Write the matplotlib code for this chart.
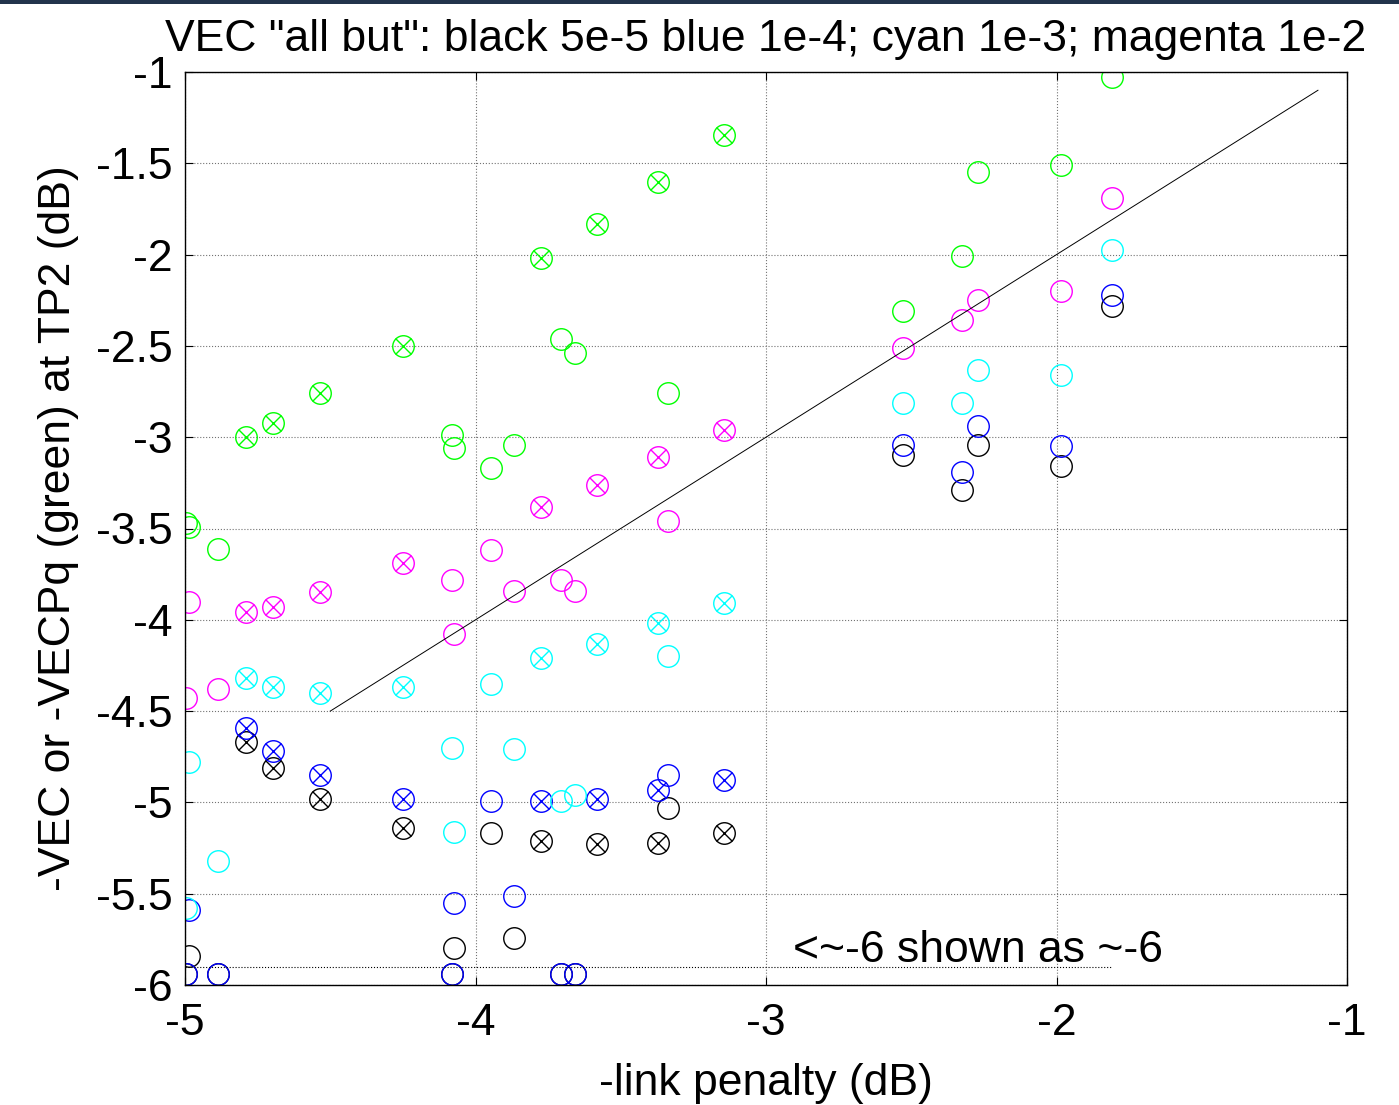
import matplotlib
matplotlib.use("Agg")
import matplotlib.pyplot as plt
from matplotlib.patches import Rectangle

plt.rcParams['font.family'] = ['Liberation Sans', 'DejaVu Sans']

# crossed-circle cases
cx = [-4.79, -4.697, -4.535, -4.25, -3.775, -3.582, -3.372, -3.145]
green_c = [-3.00, -2.92, -2.76, -2.50, -2.02, -1.83, -1.60, -1.345]
magenta_c = [-3.96, -3.93, -3.85, -3.69, -3.38, -3.26, -3.11, -2.96]
cyan_c = [-4.32, -4.37, -4.40, -4.37, -4.21, -4.13, -4.02, -3.91]
blue_c = [-4.59, -4.72, -4.85, -4.98, -4.99, -4.98, -4.93, -4.88]
black_c = [-4.67, -4.81, -4.98, -5.14, -5.21, -5.23, -5.22, -5.17]

# open-circle cases
ox = [-4.995, -4.985, -4.886, -4.08, -4.075, -3.947, -3.867, -3.706, -3.657,
      -3.337, -2.528, -2.325, -2.27, -1.985, -1.81]
green_o = [-3.47, -3.49, -3.61, -2.99, -3.06, -3.17, -3.04, -2.46, -2.54,
           -2.76, -2.31, -2.01, -1.55, -1.51, -1.03]
magenta_o = [-4.43, -3.90, -4.38, -3.78, -4.08, -3.62, -3.84, -3.78, -3.84,
             -3.46, -2.51, -2.36, -2.25, -2.20, -1.69]
cyan_o = [-5.58, -4.78, -5.32, -4.70, -5.16, -4.35, -4.71, -4.99, -4.96,
          -4.20, -2.81, -2.81, -2.63, -2.66, -1.975]
blue_o = [-5.94, -5.59, -5.94, -5.94, -5.55, -4.99, -5.51, -5.94, -5.94,
          -4.85, -3.04, -3.19, -2.94, -3.05, -2.22]
black_o = [-5.94, -5.84, -5.94, -5.94, -5.80, -5.17, -5.74, -5.94, -5.94,
           -5.03, -3.10, -3.29, -3.04, -3.16, -2.28]

ref_x = [-4.5, -1.1]
ref_y = [-4.5, -1.1]
floor_x = [-5, -1.81]
floor_y = [-5.9, -5.9]

xticks = [-5, -4, -3, -2, -1]
yticks = [-6, -5.5, -5, -4.5, -4, -3.5, -3, -2.5, -2, -1.5, -1]

fig = plt.figure(figsize=(13.99, 11.05), dpi=100)
ax = fig.add_axes([185/1399, 1-985/1105, (1347-185)/1399, (985-72)/1105])

fig.patches.append(Rectangle((0, 1-4/1105), 1, 4/1105, transform=fig.transFigure,
                             facecolor='#22344c', edgecolor='none'))

series = [(black_c, black_o, 'black'), (blue_c, blue_o, '#0000ff'),
          (cyan_c, cyan_o, '#00ffff'), (magenta_c, magenta_o, '#ff00ff'),
          (green_c, green_o, '#00ff00')]

ms = 15.5
for yc, yo, col in series:
    ax.plot(ox, yo, linestyle='none', marker='o', ms=ms, mfc='none', mec=col, mew=1.0)
    ax.plot(cx, yc, linestyle='none', marker='o', ms=ms, mfc='none', mec=col, mew=1.0)
    ax.plot(cx, yc, linestyle='none', marker='x', ms=11, mec=col, mew=1.0)

ax.plot(ref_x, ref_y, color='black', lw=0.7)
ax.plot(floor_x, floor_y, color='black', lw=0.8, linestyle=':')
ax.text(-2.907, -5.81, '<~-6 shown as ~-6', fontsize=32, ha='left', va='center')

ax.set_xlim(-5, -1)
ax.set_ylim(-6, -1)
ax.set_xticks(xticks)
ax.set_yticks(yticks)
ax.set_xticklabels([f'{v:g}' for v in xticks])
ax.set_yticklabels([f'{v:g}' for v in yticks])
ax.grid(True, color='0.45', linestyle=':', linewidth=0.8)
ax.tick_params(direction='in', length=6, top=True, right=True, labelsize=32)
ax.tick_params(axis='x', pad=13)
ax.tick_params(axis='y', pad=9)
for s in ax.spines.values():
    s.set_linewidth(1.0)
    s.set_color('black')

ax.set_title('VEC "all but": black 5e-5 blue 1e-4; cyan 1e-3; magenta 1e-2',
             fontsize=32, pad=15)
ax.set_xlabel('-link penalty (dB)', fontsize=32, labelpad=14)
ax.set_ylabel('-VEC or -VECPq (green) at TP2 (dB)', fontsize=32, labelpad=12)

fig.savefig('out.png', dpi=100)
